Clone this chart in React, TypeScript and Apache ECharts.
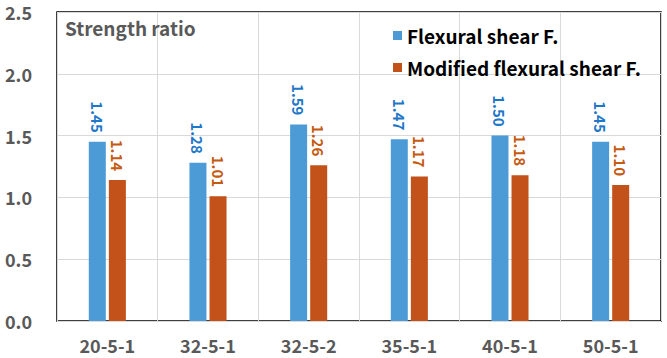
import React, { useEffect, useRef } from "react";
import * as echarts from "echarts";

const categories = ["20-5-1", "32-5-1", "32-5-2", "35-5-1", "40-5-1", "50-5-1"];
const flexural = [1.45, 1.28, 1.59, 1.47, 1.5, 1.45];
const modified = [1.14, 1.01, 1.26, 1.17, 1.18, 1.1];
const seriesNames = ["Flexural shear F.", "Modified flexural shear F."];

const FONT = "'Noto Sans CJK KR', 'Noto Sans', sans-serif";

export default function App() {
  const ref = useRef<HTMLDivElement>(null);
  useEffect(() => {
    if (!ref.current) return;
    const chart = echarts.init(ref.current, undefined, { renderer: "svg" });
    chart.setOption({
      animation: false,
      textStyle: { fontFamily: FONT },
      grid: {
        left: 57,
        right: 6,
        top: 12,
        bottom: 37,
        show: true,
        borderColor: "#000",
        borderWidth: 1.5,
        containLabel: false,
      },
      title: {
        text: "Strength ratio",
        left: 60,
        top: 13,
        textStyle: { fontFamily: FONT, fontSize: 19, fontWeight: "bold", color: "#595959" },
      },
      legend: {
        orient: "vertical",
        left: 388,
        top: 21,
        itemWidth: 9,
        itemHeight: 9,
        itemGap: 13,
        icon: "rect",
        textStyle: { fontFamily: FONT, fontSize: 19, lineHeight: 19, fontWeight: "bold", color: "#000" },
        data: seriesNames,
      },
      xAxis: {
        type: "category",
        data: categories,
        axisLine: { show: false },
        axisTick: { show: false },
        axisLabel: { margin: 15, fontFamily: FONT, fontSize: 18, lineHeight: 18, fontWeight: "bold", color: "#595959" },
        splitLine: { show: true, lineStyle: { color: "#D9D9D9", width: 1 } },
      },
      yAxis: {
        type: "value",
        min: 0,
        max: 2.5,
        interval: 0.5,
        axisLine: { show: false },
        axisTick: { show: false },
        axisLabel: {
          margin: 25,
          fontFamily: FONT,
          fontSize: 18,
          lineHeight: 18,
          fontWeight: "bold",
          color: "#595959",
          formatter: (v: number) => v.toFixed(1),
        },
        splitLine: { show: true, lineStyle: { color: "#D9D9D9", width: 1 } },
      },
      series: [
        {
          name: seriesNames[0],
          type: "bar",
          data: flexural,
          barWidth: 17,
          barGap: "18%",
          itemStyle: { color: "#4C9BD6" },
          label: {
            show: true,
            position: "top",
            rotate: -90,
            align: "right",
            verticalAlign: "middle",
            distance: 9,
            fontFamily: FONT,
            fontSize: 15,
            fontWeight: "bold",
            color: "#1F77C8",
            formatter: (p: any) => Number(p.value).toFixed(2),
          },
        },
        {
          name: seriesNames[1],
          type: "bar",
          data: modified,
          barWidth: 17,
          itemStyle: { color: "#C2511A" },
          label: {
            show: true,
            position: "top",
            rotate: -90,
            align: "right",
            verticalAlign: "middle",
            distance: 9,
            fontFamily: FONT,
            fontSize: 15,
            fontWeight: "bold",
            color: "#C55A11",
            formatter: (p: any) => Number(p.value).toFixed(2),
          },
        },
      ],
    });
    return () => chart.dispose();
  }, []);
  return <div ref={ref} style={{ width: 667, height: 358, position: "fixed", left: 0, top: 0, background: "#fff" }} />;
}
